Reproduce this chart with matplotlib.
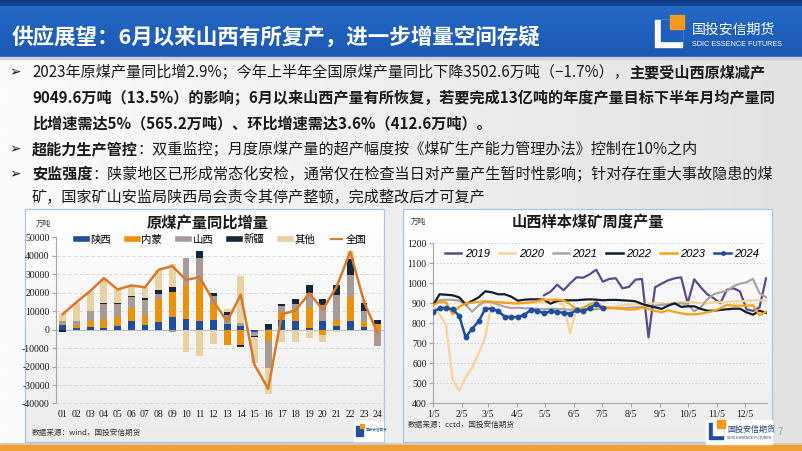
import numpy as np
import matplotlib.pyplot as plt
from matplotlib.patches import Rectangle
from matplotlib.lines import Line2D
from matplotlib.colors import to_rgb
from matplotlib.font_manager import FontProperties

plt.rcParams['font.family'] = ['Noto Sans CJK SC', 'DejaVu Sans']

W, H = 802, 451

# ---- left chart: 原煤产量同比增量 (万吨)
months = ['01', '02', '03', '04', '05', '06', '07', '08', '09', '10', '11', '12',
          '13', '14', '15', '16', '17', '18', '19', '20', '21', '22', '23', '24']
shaanxi = [2500, 1000, 1500, 800, 2000, 4500, 2800, 4000, 7000, 6000, 4500, 5500,
           3000, 2000, -1000, 500, 5500, 5000, 1000, 4500, 1800, 4500, 1500, 0]
neimeng = [500, 1500, 3000, 5200, 5000, 7500, 5200, 12600, 13500, 18000, 21500, 8500,
           -8300, -8500, 0, -6000, 4000, 5000, 11500, -3000, 3700, 13500, 3500, 3000]
shanxi = [2000, 2500, 5500, 8000, 7000, 5500, 8000, 2700, -1500, 15000, 13000, 4500,
          5000, 1500, -2300, -14500, 3500, 4000, 7500, 9000, 13500, 11500, 5000, -9000]
xinjiang = [-1000, 0, 0, 500, 300, 800, 1000, 2500, 2500, 0, 3500, 1500,
            1500, -1000, -700, 2500, 1200, 2500, 4500, 3000, 5000, 9000, 4500, 2500]
others = [4000, 9500, 11000, 13000, 7500, 5500, 6000, 10500, 12500, -12000, -14500, -7500,
          1500, 25500, -14000, -14500, -6500, -6500, -4500, -3500, -1500, 4000, 1500, 0]
national = [8500, 15000, 21000, 28000, 21800, 24000, 23000, 32500, 34500, 27000, 28500, 15500,
            4500, 19000, -19000, -32000, 8300, 10500, 19700, 11000, 23300, 42300, 15200, -2000]
bar_names = ['陕西', '内蒙', '山西', '新疆', '其他']
bar_colors = ['#1F4E9C', '#E8920E', '#A69C95', '#13263A', '#E8D1A2']

# ---- right chart: 山西样本煤矿周度产量 (万吨), weekly
nan = np.nan
y2019 = [nan] * 17 + [940, 958, 993, 965, 1000, 1030, 1028, 1045, 1068, 1008,
                      1022, 1025, 975, 982, 1018, 1022, 730, 980, 998, 1015,
                      1025, 1030, 900, 1020, 980, 945, 925, 900, 968, 975,
                      960, 870, 862, 880, 1025]
y2020 = [885, 845, 790, 520, 462, 530, 580, 650, 730, 905,
         908, 905, 900, 898, 900, 902, 905, 905, 905, 905,
         890, 750, 878, 870, 865, 870, 875, 880, 885, 890,
         893, 895, 895, 898, 900, 900, 900, 902, 905, 905,
         905, 900, 900, 905, 905, 908, 910, 910, 912, 915,
         915, 912]
y2021 = [897, 915, 918, 917, 913, 893, 858, 890, 908, 905,
         893, 883, 876, 878, 875, 875, 872, 870, 872, 872,
         870, 868, 872, 872, 870, 872, 874, 875, 875, 876,
         878, 880, 882, 885, 888, 892, 895, 898, 900, 895,
         860, 880, 920, 945, 955, 962, 985, 998, 1005, 1022,
         950, 930]
y2022 = [890, 945, 943, 940, 930, 895, 912, 930, 960, 955,
         945, 945, 933, 913, 918, 920, 920, 918, 898, 912,
         915, 915, 915, 918, 920, 918, 915, 917, 917, 915,
         913, 910, 897, 888, 880, 872, 888, 900, 882, 885,
         885, 872, 863, 863, 867, 870, 873, 873, 855, 843,
         863, 852]
y2023 = [892, 905, 905, 845, 883, 898, 903, 908, 910, 908,
         905, 902, 900, 900, 902, 905, 912, 918, 918, 918,
         915, 895, 870, 878, 895, 905, 882, 878, 875, 872,
         868, 870, 878, 872, 862, 855, 865, 857, 850, 845,
         845, 848, 855, 862, 875, 892, 888, 888, 888, 890,
         840, 858]
y2024 = [857, 875, 877, 870, 838, 730, 773, 810, 873, 873,
         860, 833, 830, 832, 843, 867, 863, 850, 860, 857,
         852, 848, 865, 860, 878, 895, 875]
years = ['2019', '2020', '2021', '2022', '2023', '2024']
year_colors = ['#5C4A8A', '#F7D49A', '#ADA6A0', '#0F1F2E', '#F5A21A', '#1F4E9C']
tick_days = [5, 36, 64, 95, 125, 156, 186, 217, 248, 278, 309, 339]
tick_labels = ['1/5', '2/5', '3/5', '4/5', '5/5', '6/5', '7/5', '8/5', '9/5', '10/5', '11/5', '12/5']

fig = plt.figure(figsize=(8.02, 4.51), dpi=100)
bg = fig.add_axes([0, 0, 1, 1])


def gradient(x0, y0, x1, y1, c0, c1, horizontal=False, z=0):
    a, b = np.array(to_rgb(c0)), np.array(to_rgb(c1))
    t = np.linspace(0, 1, 100)
    cols = a + (b - a) * t[:, None]
    img = cols[None, :, :] if horizontal else cols[:, None, :]
    bg.imshow(img, extent=(x0, x1, y1, y0), aspect='auto', zorder=z, interpolation='bilinear')


def px_axes(x0, y0, x1, y1):
    return fig.add_axes([x0 / W, 1 - y1 / H, (x1 - x0) / W, (y1 - y0) / H])


# slide background
gradient(0, 57, W, 445, '#FBFBFB', '#E2E2E2', horizontal=True, z=0)
# header
gradient(0, 0, W, 6, '#0E3A7C', '#174C9E', z=1)
gradient(0, 6, W, 57, '#2468C6', '#1C58B4', z=1)
bg.add_patch(Rectangle((0, 57), W, 2, color='#C9D3E0', zorder=2))
bg.text(12, 37, '供应展望：6月以来山西有所复产，进一步增量空间存疑', color='white',
        fontsize=15.5, fontweight='bold', va='center', ha='left', zorder=3)
# header logo
bg.add_patch(Rectangle((655, 20), 27, 27, color='white', zorder=3))
bg.add_patch(Rectangle((661, 20), 21, 21, color='#1F5FBE', zorder=4))
bg.add_patch(Rectangle((670, 15), 14, 14, color='#F39A1E', zorder=5))
bg.text(692, 30, '国投安信期货', color='white', fontsize=10, va='center', zorder=3)
bg.text(692, 44, 'SDIC ESSENCE FUTURES', color='white', fontsize=5.2, va='center',
        family='Liberation Sans', zorder=3)
# bottom strip
bg.add_patch(Rectangle((0, 443), W, 2, color='#D0D0D0', zorder=2))
bg.add_patch(Rectangle((0, 445), W, 6, color='#F0A030', zorder=2))

# bullet text
renderer = fig.canvas.get_renderer()


def runs(x, y, parts, size=10.9):
    for txt, bold in parts:
        t = bg.text(x, y, txt, fontsize=size, fontweight='bold' if bold else 'normal',
                    va='center', ha='left', color='#1A1A1A', zorder=3)
        x += t.get_window_extent(renderer).width


lines = [
    (72, True, [('2023年原煤产量同比增2.9%；今年上半年全国原煤产量同比下降3502.6万吨（−1.7%），', False),
                ('主要受山西原煤减产', True)]),
    (98, False, [('9049.6万吨（13.5%）的影响；6月以来山西产量有所恢复，若要完成13亿吨的年度产量目标下半年月均产量同', True)]),
    (123, False, [('比增速需达5%（565.2万吨）、环比增速需达3.6%（412.6万吨）。', True)]),
    (149, True, [('超能力生产管控', True), ('：双重监控；月度原煤产量的超产幅度按《煤矿生产能力管理办法》控制在10%之内', False)]),
    (174, True, [('安监强度', True), ('：陕蒙地区已形成常态化安检，通常仅在检查当日对产量产生暂时性影响；针对存在重大事故隐患的煤', False)]),
    (197, False, [('矿，国家矿山安监局陕西局会责令其停产整顿，完成整改后才可复产', False)]),
]
for y, bullet, parts in lines:
    if bullet:
        bg.text(9, y, '➢', fontsize=10, va='center', ha='left', color='#1A1A1A', zorder=3,
                family=['DejaVu Sans'])
    runs(32, y, parts)

# chart panels
for (x0, x1) in [(25, 384), (403, 772)]:
    gradient(x0, 209, x1, 442, '#FFFFFF', '#ECECEC', z=2)
    bg.add_patch(Rectangle((x0, 209), x1 - x0, 442 - 209, fill=False, ec='#A9C4E4', lw=0.9, zorder=3))

bg.text(208, 223, '原煤产量同比增量', fontsize=11, fontweight='bold', ha='center', va='center',
        color='#1A1A1A', zorder=4)
bg.text(43, 224, '万吨', fontsize=5.5, ha='center', va='center', color='#333333', zorder=4)
bg.text(32, 433, '数据来源：wind，国投安信期货', fontsize=5.5, ha='left', va='center', color='#333333', zorder=4)
bg.text(588, 222, '山西样本煤矿周度产量', fontsize=11, fontweight='bold', ha='center', va='center',
        color='#1A1A1A', zorder=4)
bg.text(418, 222, '万吨', fontsize=5.5, ha='center', va='center', color='#333333', zorder=4)
bg.text(408, 425, '数据来源：cctd，国投安信期货', fontsize=5.5, ha='left', va='center', color='#333333', zorder=4)

# small logos
bg.add_patch(Rectangle((354, 421), 29, 20, color='white', zorder=4))
bg.add_patch(Rectangle((356, 426), 7, 10, color='#1F4E9C', zorder=5))
bg.add_patch(Rectangle((360, 424), 4, 4, color='#F39A1E', zorder=6))
bg.text(366, 430, '国投安信期货', fontsize=2.6, color='#1F4E9C', va='center', zorder=5)
bg.add_patch(Rectangle((706, 420), 66, 24, color='white', zorder=4))
bg.add_patch(Rectangle((709, 423), 14, 16, color='#1F4E9C', zorder=5))
bg.add_patch(Rectangle((713, 423), 10, 12, color='white', zorder=6))
bg.add_patch(Rectangle((717, 420), 8, 8, color='#F39A1E', zorder=7))
bg.text(727, 429, '国投安信期货', fontsize=5.8, color='#1F3F7A', va='center', zorder=5)
bg.text(727, 438, 'SDIC ESSENCE FUTURES', fontsize=2.6, color='#1F3F7A', va='center',
        family='Liberation Sans', zorder=5)
bg.text(780, 432, '7', fontsize=7, color='#A0A0A0', va='center', ha='center', zorder=4)

bg.set_xlim(0, W)
bg.set_ylim(H, 0)
bg.axis('off')

tick_font = FontProperties(family='Liberation Serif', size=7)

# ---- left chart
ax1 = px_axes(56, 237.5, 384.5, 403.5)
ax1.set_facecolor('none')
x = np.arange(len(months))
pos_base = np.zeros(len(months))
neg_base = np.zeros(len(months))
for vals, color in zip([shaanxi, neimeng, shanxi, xinjiang, others], bar_colors):
    v = np.array(vals, dtype=float)
    base = np.where(v >= 0, pos_base, neg_base)
    ax1.bar(x, v, 0.5, bottom=base, color=color, zorder=3)
    pos_base += np.clip(v, 0, None)
    neg_base += np.clip(v, None, 0)
ax1.plot(x, national, color='#D9792B', lw=1.8, zorder=4)
ax1.axhline(0, color='#BFBFBF', lw=0.8, zorder=2)
ax1.set_xlim(-0.5, len(months) - 0.5)
ax1.set_ylim(-40000, 50000)
ax1.set_yticks(np.arange(-40000, 50001, 10000))
ax1.set_yticklabels([str(v) for v in range(-40000, 50001, 10000)], fontproperties=tick_font)
ax1.set_xticks(x)
ax1.set_xticklabels(months, fontproperties=tick_font)
ax1.yaxis.grid(True, ls=(0, (4, 3)), color='#D3D3D3', lw=0.6, zorder=0)
ax1.set_axisbelow(True)
for s in ['top', 'right', 'bottom']:
    ax1.spines[s].set_visible(False)
ax1.spines['left'].set_color('#A6A6A6')
ax1.tick_params(axis='y', length=3, pad=1.5, color='#A6A6A6', labelcolor='#1A1A1A')
ax1.tick_params(axis='x', length=0, pad=4.5, labelcolor='#1A1A1A')
handles1 = [Line2D([], [], color=c, lw=4) for c in bar_colors] + [Line2D([], [], color='#D9792B', lw=1.5)]
ax1.legend(handles1, bar_names + ['全国'], ncol=6, frameon=False, loc='center',
           bbox_to_anchor=(221 / W, 1 - 240 / H), bbox_transform=fig.transFigure,
           fontsize=7.5, handlelength=1.1, handletextpad=0.3, columnspacing=1.5)

# ---- right chart
ax2 = px_axes(433, 243.3, 767, 403.3)
ax2.set_facecolor('none')
for vals, color, name in zip([y2019, y2020, y2021, y2022, y2023], year_colors[:5], years[:5]):
    ax2.plot(np.arange(len(vals)), vals, color=color, lw=1.6, zorder=3)
ax2.plot(np.arange(len(y2024)), y2024, color=year_colors[5], lw=1.8, marker='o', ms=3.2, zorder=4)
ax2.set_xlim(0, (363 - 5) / 7)
ax2.set_ylim(400, 1200)
ax2.set_yticks(np.arange(400, 1201, 100))
ax2.set_yticklabels([str(v) for v in range(400, 1201, 100)], fontproperties=tick_font)
ax2.set_xticks([(d - 5) / 7 for d in tick_days])
ax2.set_xticklabels(tick_labels, fontproperties=tick_font)
ax2.yaxis.grid(True, ls=(0, (1.5, 2)), color='#CFCFCF', lw=0.7, zorder=0)
ax2.set_axisbelow(True)
for s in ['top', 'right']:
    ax2.spines[s].set_visible(False)
for s in ['left', 'bottom']:
    ax2.spines[s].set_color('#A6A6A6')
ax2.tick_params(length=3, pad=1.5, color='#A6A6A6', labelcolor='#1A1A1A')
handles2 = [Line2D([], [], color=c, lw=1.8) for c in year_colors[:5]] + \
           [Line2D([], [], color=year_colors[5], lw=1.8, marker='o', ms=2.5)]
ax2.legend(handles2, years, ncol=6, frameon=False, loc='center',
           bbox_to_anchor=(602 / W, 1 - 254 / H), bbox_transform=fig.transFigure,
           prop=FontProperties(family='Liberation Sans', style='italic', size=8),
           handlelength=1.5, handletextpad=0.3, columnspacing=0.8)

fig.savefig('out.png', dpi=100)
